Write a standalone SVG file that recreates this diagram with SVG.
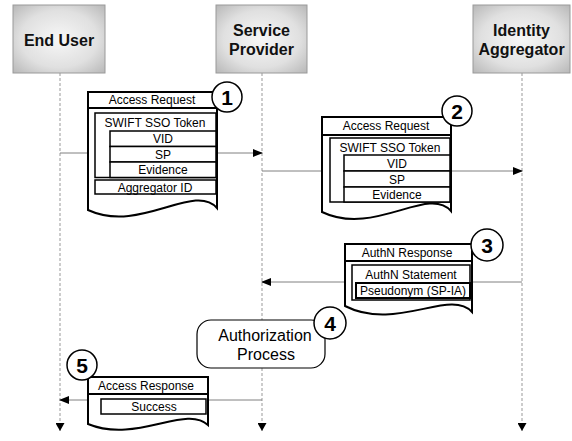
<svg xmlns="http://www.w3.org/2000/svg" width="572" height="441" viewBox="0 0 572 441">
<defs>
<radialGradient id="hg" cx="50%" cy="50%" r="70%">
<stop offset="0" stop-color="#f7f7f7"/>
<stop offset="0.6" stop-color="#e0e0e0"/>
<stop offset="1" stop-color="#b8b8b8"/>
</radialGradient>
<marker id="ah" markerWidth="10" markerHeight="8" refX="9" refY="4" orient="auto" markerUnits="userSpaceOnUse">
<path d="M0,0 L10,4 L0,8 Z" fill="#000"/>
</marker>
<marker id="lh" markerWidth="9" markerHeight="9" refX="4.5" refY="8" orient="0" markerUnits="userSpaceOnUse">
<path d="M0,0 L9,0 L4.5,8 Z" fill="#000"/>
</marker>
</defs>
<style>
.hdr{fill:url(#hg);stroke:#9a9a9a;stroke-width:1}
.ht{font-family:"Liberation Sans",Arial,sans-serif;font-weight:bold;font-size:16px;fill:#111;text-anchor:middle}
.life{stroke:#999;stroke-width:1;stroke-dasharray:3,2;fill:none}
.msg{stroke:#808080;stroke-width:1;fill:none}
.doc{fill:#fff;stroke:#000;stroke-width:2}
.box{fill:#fff;stroke:#000;stroke-width:1.5}
.t{font-family:"Liberation Sans",Arial,sans-serif;font-size:12px;fill:#000;text-anchor:middle}
.num{fill:#fff;stroke:#000;stroke-width:1.5}
.nt{font-family:"Liberation Sans",Arial,sans-serif;font-weight:bold;font-size:21px;fill:#000;text-anchor:middle}
.proc{fill:#fff;stroke:#000;stroke-width:1.2}
.pt{font-family:"Liberation Sans",Arial,sans-serif;font-size:16px;fill:#000;text-anchor:middle}
</style>

<g id="lifelines">
<line class="life" x1="60" y1="73" x2="60" y2="431" marker-end="url(#lh)"/>
<line class="life" x1="262" y1="73" x2="262" y2="431" marker-end="url(#lh)"/>
<line class="life" x1="522" y1="73" x2="522" y2="431" marker-end="url(#lh)"/>
</g>

<g id="connectors">
<line class="msg" x1="60" y1="153" x2="262" y2="153" marker-end="url(#ah)"/>
<line class="msg" x1="262" y1="171" x2="522" y2="171" marker-end="url(#ah)"/>
<line class="msg" x1="522" y1="282" x2="262" y2="282" marker-end="url(#ah)"/>
<line class="msg" x1="262" y1="400" x2="60" y2="400" marker-end="url(#ah)"/>
</g>

<g id="end-user">
<rect class="hdr" x="13" y="5" width="92" height="68"/>
<text class="ht" x="59" y="46">End User</text>
</g>
<g id="service-provider">
<rect class="hdr" x="216" y="5" width="91" height="68"/>
<text class="ht" x="261.5" y="36">Service</text>
<text class="ht" x="261.5" y="55">Provider</text>
</g>
<g id="identity-aggregator">
<rect class="hdr" x="473" y="5" width="97" height="68"/>
<text class="ht" x="521.5" y="36">Identity</text>
<text class="ht" x="521.5" y="55">Aggregator</text>
</g>

<g id="msg1">
<path class="doc" d="M88,92 H217 V208 C194,182 140,234 88,210 Z"/>
<line class="doc" x1="88" y1="108" x2="217" y2="108"/>
<text class="t" x="152" y="104">Access Request</text>
<rect class="box" x="95" y="113" width="121" height="64.5"/>
<text class="t" x="155" y="127">SWIFT SSO Token</text>
<rect class="box" x="110" y="131" width="106" height="15.5"/>
<text class="t" x="163" y="143">VID</text>
<rect class="box" x="110" y="146.5" width="106" height="15.5"/>
<text class="t" x="163" y="158.5">SP</text>
<rect class="box" x="110" y="162" width="106" height="15.5"/>
<text class="t" x="163" y="174">Evidence</text>
<rect class="box" x="95" y="180" width="121" height="14"/>
<text class="t" x="155" y="191.5">Aggregator ID</text>
<circle class="num" cx="227" cy="97" r="15"/>
<text class="nt" x="227" y="104.5">1</text>
</g>

<g id="msg2">
<path class="doc" d="M322,117 H451 V211 C428,185 374,237 322,212 Z"/>
<line class="doc" x1="322" y1="135" x2="451" y2="135"/>
<text class="t" x="386" y="130">Access Request</text>
<rect class="box" x="330" y="138" width="120" height="64"/>
<text class="t" x="390" y="151.5">SWIFT SSO Token</text>
<rect class="box" x="344" y="155" width="106" height="16"/>
<text class="t" x="397" y="167.5">VID</text>
<rect class="box" x="344" y="171" width="106" height="16"/>
<text class="t" x="397" y="183.5">SP</text>
<rect class="box" x="344" y="187" width="106" height="15"/>
<text class="t" x="397" y="199">Evidence</text>
<circle class="num" cx="457" cy="111" r="15"/>
<text class="nt" x="457" y="118.5">2</text>
</g>

<g id="msg3">
<path class="doc" d="M345,244 H472 V312 C450,288 396,332 345,306 Z"/>
<line class="doc" x1="345" y1="261" x2="472" y2="261"/>
<text class="t" x="407" y="257">AuthN Response</text>
<rect class="box" x="352" y="265" width="118" height="35"/>
<text class="t" x="411" y="279">AuthN Statement</text>
<rect class="doc" x="356" y="283" width="114" height="15"/>
<text class="t" x="413" y="295">Pseudonym (SP-IA)</text>
<circle class="num" cx="487" cy="245" r="16"/>
<text class="nt" x="487" y="252.5">3</text>
</g>

<g id="auth-process">
<rect class="proc" x="197" y="320" width="128" height="48" rx="14"/>
<text class="pt" x="265" y="341">Authorization</text>
<text class="pt" x="266" y="360">Process</text>
<circle class="num" cx="330" cy="323" r="16"/>
<text class="nt" x="330" y="330.5">4</text>
</g>

<g id="msg5">
<path class="doc" d="M88,377 H208 V425 C186,404 136,444 88,424 Z"/>
<line class="doc" x1="88" y1="394" x2="208" y2="394"/>
<text class="t" x="146" y="390">Access Response</text>
<rect class="box" x="101" y="399" width="105" height="15"/>
<text class="t" x="154" y="411">Success</text>
<circle class="num" cx="82" cy="365" r="15"/>
<text class="nt" x="82" y="372.5">5</text>
</g>
</svg>
